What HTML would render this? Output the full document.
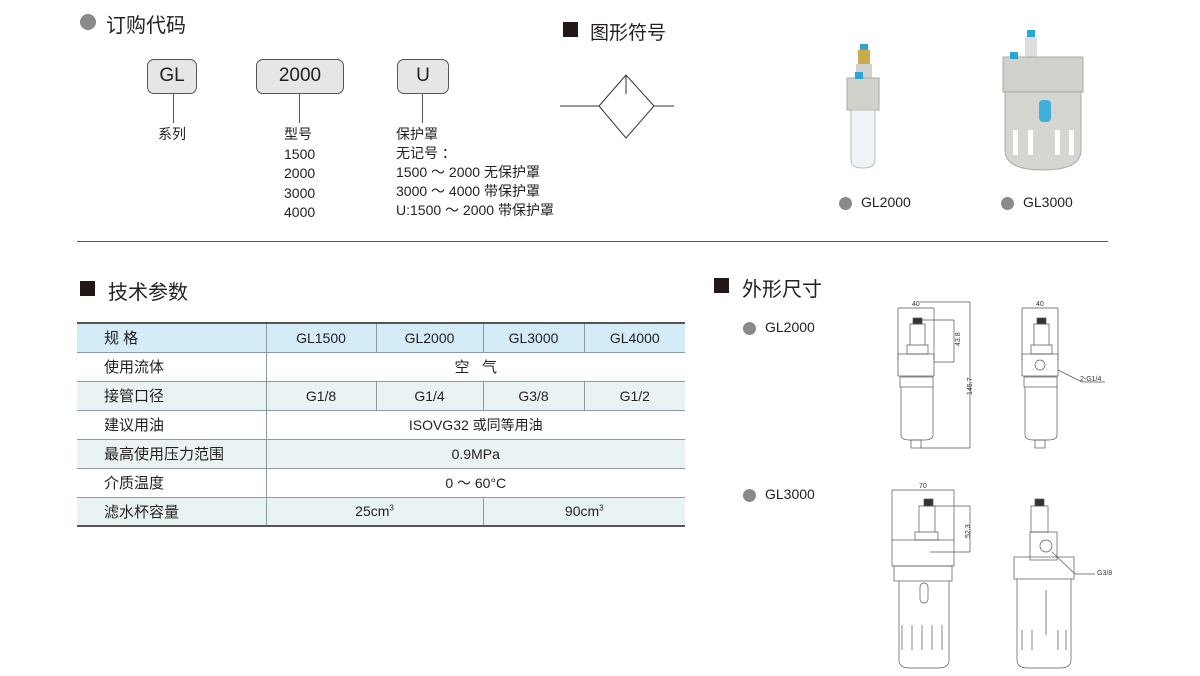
<!DOCTYPE html>
<html><head><meta charset="utf-8">
<style>
*{margin:0;padding:0;box-sizing:border-box}
body{width:1200px;height:676px;background:#fff;position:relative;overflow:hidden;font-family:"Liberation Sans","Noto Sans CJK SC",sans-serif;color:#231f20}
.a{position:absolute;white-space:nowrap}
.h{font-size:20px}
.dot{position:absolute;border-radius:50%;background:#8a8a8a}
.sq{position:absolute;background:#231815}
.box{position:absolute;border:1px solid #555;border-radius:7px;background:#e6e6e6;font-size:19px;text-align:center;line-height:31px}
.vl{position:absolute;width:1px;background:#555}
.t{font-size:14px;line-height:19.5px}
table{position:absolute;left:77px;top:322px;width:608px;border-collapse:collapse;font-size:14px}
td{height:29px;border:1px solid #8a9aa0;text-align:center;padding:0}
td:first-child{text-align:left;padding-left:27px;font-size:15px;border-left:none}
td:last-child{border-right:none}
tr.b{background:#d4ebf8}
tr.g{background:#eaf3f4}
table{border-top:2px solid #555;border-bottom:2px solid #555}
sup{font-size:8px}
</style></head><body>

<div class="dot" style="left:80px;top:14px;width:16px;height:16px"></div>
<div class="a h" style="left:106px;top:9px">订购代码</div>

<div class="box" style="left:147px;top:59px;width:50px;height:35px">GL</div>
<div class="box" style="left:256px;top:59px;width:88px;height:35px">2000</div>
<div class="box" style="left:397px;top:59px;width:52px;height:35px">U</div>
<div class="vl" style="left:173px;top:94px;height:29px"></div>
<div class="vl" style="left:299px;top:94px;height:29px"></div>
<div class="vl" style="left:422px;top:94px;height:29px"></div>
<div class="a t" style="left:158px;top:125px">系列</div>
<div class="a t" style="left:284px;top:125px">型号<br>1500<br>2000<br>3000<br>4000</div>
<div class="a t" style="left:396px;top:125px;line-height:19px">保护罩<br>无记号 ：<br>1500 ～ 2000 无保护罩<br>3000 ～ 4000 带保护罩<br>U:1500 ～ 2000 带保护罩</div>

<div class="sq" style="left:563px;top:22px;width:15px;height:15px"></div>
<div class="a h" style="left:590px;top:18px;font-size:19px">图形符号</div>
<svg class="a" style="left:555px;top:70px" width="125" height="75"><g stroke="#333" stroke-width="1" fill="none"><path d="M5 36H44M99 36H119M44 36L71 5L99 36L71 68Z M71 5V24"/></g></svg>

<!-- product photos -->
<svg class="a" style="left:845px;top:30px" width="260" height="150">
<rect x="15" y="14" width="8" height="6" fill="#2aa6d6"/>
<rect x="13" y="20" width="12" height="14" fill="#c9a94a"/>
<rect x="11" y="34" width="16" height="14" fill="#cfd2cf"/>
<rect x="2" y="48" width="32" height="32" fill="#d0d3cc" stroke="#aaa"/>
<rect x="10" y="42" width="8" height="7" fill="#2aa6d6"/>
<path d="M6 80H30V130Q30 138 18 138Q6 138 6 130Z" fill="#eef3f6" stroke="#bbb"/>
<rect x="182" y="0" width="8" height="7" fill="#2aa6d6"/>
<rect x="180" y="7" width="12" height="20" fill="#ddd"/>
<rect x="158" y="27" width="80" height="35" fill="#cfd2cb" stroke="#aaa"/>
<rect x="165" y="22" width="8" height="7" fill="#2aa6d6"/>
<path d="M160 62H236V120Q236 140 198 140Q160 140 160 120Z" fill="#d4d6cf" stroke="#aaa"/>
<rect x="194" y="70" width="12" height="22" rx="4" fill="#3fb0dc"/>
<g fill="#fff"><rect x="168" y="100" width="5" height="25"/><rect x="183" y="100" width="5" height="25"/><rect x="210" y="100" width="5" height="25"/><rect x="224" y="100" width="5" height="25"/></g>
</svg>
<div class="dot" style="left:839px;top:197px;width:13px;height:13px"></div>
<div class="a" style="left:861px;top:194px;font-size:14px">GL2000</div>
<div class="dot" style="left:1001px;top:197px;width:13px;height:13px"></div>
<div class="a" style="left:1023px;top:194px;font-size:14px">GL3000</div>

<div class="a" style="left:77px;top:241px;width:1031px;height:1px;background:#555"></div>

<div class="sq" style="left:80px;top:281px;width:15px;height:15px"></div>
<div class="a h" style="left:108px;top:276px">技术参数</div>

<table>
<tr class="b"><td style="width:189px">规 格</td><td style="width:110px">GL1500</td><td style="width:107px">GL2000</td><td style="width:101px">GL3000</td><td>GL4000</td></tr>
<tr><td>使用流体</td><td colspan="4" style="font-size:15px">空 &nbsp; 气</td></tr>
<tr class="g"><td>接管口径</td><td>G1/8</td><td>G1/4</td><td>G3/8</td><td>G1/2</td></tr>
<tr><td>建议用油</td><td colspan="4">ISOVG32 或同等用油</td></tr>
<tr class="g"><td>最高使用压力范围</td><td colspan="4">0.9MPa</td></tr>
<tr><td>介质温度</td><td colspan="4">0 ～ 60°C</td></tr>
<tr class="g"><td>滤水杯容量</td><td colspan="2" style="width:214px">25cm<sup>3</sup></td><td colspan="2">90cm<sup>3</sup></td></tr>
</table>

<div class="sq" style="left:714px;top:278px;width:15px;height:15px"></div>
<div class="a h" style="left:742px;top:273px">外形尺寸</div>
<div class="dot" style="left:743px;top:322px;width:13px;height:13px"></div>
<div class="a" style="left:765px;top:319px;font-size:14px">GL2000</div>
<div class="dot" style="left:743px;top:489px;width:13px;height:13px"></div>
<div class="a" style="left:765px;top:486px;font-size:14px">GL3000</div>

<svg class="a" style="left:820px;top:290px" width="320" height="386">
<g stroke="#555" stroke-width="0.7" fill="none">
<!-- GL2000 front -->
<path d="M78 18V70M114 18V70M78 18H114"/>
<path d="M94 30H134M114 72H134M134 30V72M100 12H150M100 158H150M150 12V158"/>
<rect x="93" y="28" width="9" height="6" fill="#333"/>
<path d="M90 34H105V55H90Z M87 55H108V64H87Z"/>
<rect x="78" y="64" width="36" height="22"/>
<rect x="80" y="87" width="33" height="10"/>
<path d="M81 97V145Q81 150 90 150H104Q113 150 113 145V97"/>
<rect x="91" y="150" width="10" height="8"/>
<!-- GL2000 side -->
<path d="M202 18V70M238 18V70M202 18H238"/>
<rect x="217" y="28" width="9" height="6" fill="#333"/>
<path d="M214 34H229V55H214Z M211 55H232V64H211Z"/>
<rect x="202" y="64" width="36" height="22"/>
<circle cx="220" cy="75" r="5"/>
<rect x="204" y="87" width="33" height="10"/>
<path d="M205 97V145Q205 150 214 150H228Q237 150 237 145V97"/>
<rect x="215" y="150" width="10" height="8"/>
<path d="M238 80L262 92H285"/>
<!-- GL3000 front -->
<path d="M72 200V250M134 200V250M72 200H134M110 216H150M110 262H150M150 216V262"/>
<rect x="104" y="209" width="9" height="7" fill="#333"/>
<path d="M99 216H115V242H99Z M95 242H118V250H95Z"/>
<rect x="72" y="250" width="62" height="26"/>
<rect x="74" y="276" width="58" height="15"/>
<path d="M79 291V370Q79 378 90 378H118Q129 378 129 370V291"/>
<rect x="100" y="293" width="8" height="20" rx="4"/>
<path d="M82 335V360M92 335V360M102 335V360M112 335V360M122 335V360"/>
<!-- GL3000 side -->
<rect x="215" y="209" width="9" height="7" fill="#333"/>
<path d="M211 216H228V242H211Z"/>
<rect x="210" y="242" width="27" height="28"/>
<circle cx="226" cy="256" r="6"/>
<rect x="194" y="267" width="60" height="22"/>
<path d="M197 289V370Q197 378 208 378H240Q251 378 251 370V289"/>
<path d="M202 340V360M212 340V360M238 340V360M246 340V360M226 300V345"/>
<path d="M232 262L255 284H275"/>
</g>
<g font-size="7" fill="#333" font-family="Liberation Sans,sans-serif">
<text x="92" y="16">40</text><text x="216" y="16">40</text><text x="99" y="198">70</text>
<text x="260" y="91">2-G1/4</text><text x="277" y="285">G3/8</text>
<text transform="translate(140,56) rotate(-90)">43.8</text>
<text transform="translate(152,105) rotate(-90)">145.7</text>
<text transform="translate(150,248) rotate(-90)">52.3</text>
</g>
</svg>
</body></html>
